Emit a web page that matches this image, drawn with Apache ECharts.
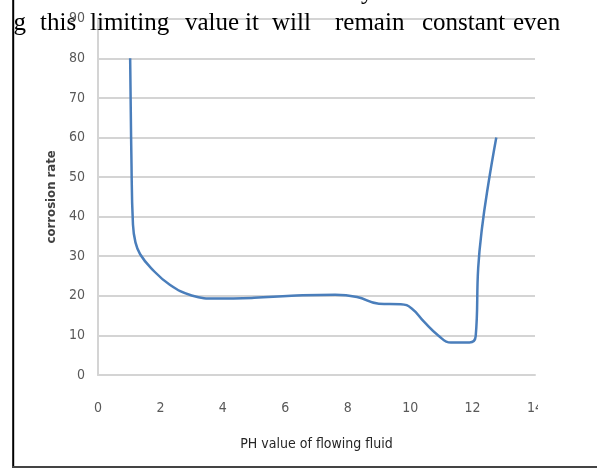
<!DOCTYPE html>
<html>
<head>
<meta charset="utf-8">
<script src="https://cdn.jsdelivr.net/npm/echarts@6/dist/echarts.min.js"></script>
<style>
  html, body { margin: 0; padding: 0; background: #ffffff; }
  #chart { width: 597px; height: 468px; }
</style>
</head>
<body>
<div id="chart"></div>
<script>
// PH values (x) and corrosion rate (y)
const phValues = [1.03, 1.07, 1.12, 1.2, 1.35, 1.7, 2.3, 3.0, 3.8, 5.0, 6.2, 7.6, 8.3, 9.0, 9.7, 10.05, 10.45, 10.9, 11.3, 11.9, 12.1, 12.18, 12.3, 12.5, 12.76];
const corrosionRate = [80, 55, 38, 33.5, 30.5, 27, 22.8, 20.1, 19.3, 19.5, 20.0, 20.3, 19.7, 18.0, 17.9, 16.8, 13.4, 10.0, 8.2, 8.2, 9.8, 27, 37, 48, 60];
const xTicks = { min: 0, max: 14, interval: 2 };
const yTicks = { min: 0, max: 90, interval: 10 };
const xTitle = 'PH value of flowing fluid';
const yTitle = 'corrosion rate';
const topWords = ['ng', 'this', 'limiting', 'value', 'it', 'will', 'remain', 'constant', 'even'];
const topWordX = [1, 40, 90, 185, 245, 272, 335, 422, 513];

const points = phValues.map((x, i) => [x, corrosionRate[i]]);

const chart = echarts.init(document.getElementById('chart'), null, { renderer: 'canvas' });

const wordGraphics = topWords.map((w, i) => ({
  type: 'text',
  left: topWordX[i],
  top: 11,
  z: 100,
  style: {
    text: w,
    fill: '#000000',
    font: '25px "Liberation Serif", "Times New Roman", serif'
  }
}));

const labelFont = '"Liberation Sans Narrow", "DejaVu Sans Condensed", sans-serif';

chart.setOption({
  animation: false,
  backgroundColor: '#ffffff',
  grid: { left: 98, right: 62, top: 18.7, bottom: 93, containLabel: false },
  xAxis: {
    type: 'value',
    min: xTicks.min, max: xTicks.max, interval: xTicks.interval,
    name: xTitle,
    nameLocation: 'middle',
    nameGap: 62,
    nameTextStyle: { color: '#262626', fontSize: 14, fontFamily: labelFont },
    axisLine: { show: true, lineStyle: { color: '#d4d4d4', width: 2 } },
    axisTick: { show: false },
    splitLine: { show: false },
    axisLabel: { color: '#595959', fontSize: 14, margin: 26, fontFamily: labelFont }
  },
  yAxis: {
    type: 'value',
    min: yTicks.min, max: yTicks.max, interval: yTicks.interval,
    name: yTitle,
    nameLocation: 'middle',
    nameGap: 38,
    nameRotate: 90,
    nameTextStyle: { color: '#404040', fontSize: 13, fontWeight: 'bold', fontFamily: labelFont },
    axisLine: { show: true, lineStyle: { color: '#d4d4d4', width: 2 } },
    axisTick: { show: false },
    splitLine: { show: true, lineStyle: { color: '#d4d4d4', width: 2 } },
    axisLabel: { color: '#595959', fontSize: 14, margin: 13, fontFamily: labelFont }
  },
  series: [{
    type: 'line',
    data: points,
    smooth: 0.45,
    showSymbol: false,
    lineStyle: { color: '#4a7ebb', width: 2.5 },
    itemStyle: { color: '#4a7ebb' }
  }],
  graphic: [
    { type: 'rect', shape: { x: 538, y: 392, width: 59, height: 30 }, style: { fill: '#ffffff' }, z: 50 },
    { type: 'rect', shape: { x: 0, y: 0, width: 12.5, height: 468 }, style: { fill: '#ffffff' }, z: 150 },
    { type: 'line', shape: { x1: 13.2, y1: 0, x2: 13.2, y2: 468 }, style: { stroke: '#000000', lineWidth: 2 }, z: 160 },
    { type: 'line', shape: { x1: 12, y1: 467, x2: 597, y2: 467 }, style: { stroke: '#444444', lineWidth: 2 }, z: 160 },
    { type: 'text', left: 361, top: -20, z: 100, style: { text: 'y', fill: '#000000', font: '25px "Liberation Serif", "Times New Roman", serif' } }
  ].concat(wordGraphics)
});
</script>
</body>
</html>
